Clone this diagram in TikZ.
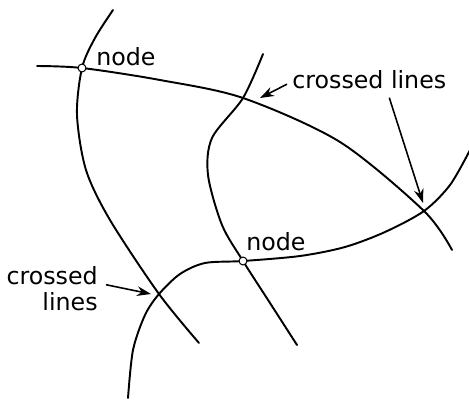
\documentclass[tikz,border=0pt]{standalone}
\usepackage{fontspec}
\setmainfont{DejaVu Sans}
\usetikzlibrary{arrows.meta}
\tikzset{
  strand/.style={line width=1.1pt, line cap=round},
  junction/.style={circle, draw, fill=white, line width=0.6pt, minimum size=4.5pt, inner sep=0pt},
  tag/.style={inner sep=0pt, font=\fontsize{13.5}{15}\selectfont},
  pointer/.style={-{Stealth[length=8pt,width=5.5pt]}, line width=0.9pt},
}
\begin{document}
\begin{tikzpicture}[x=0.02cm, y=-0.02cm]
    \useasboundingbox (0,0) rectangle (469,399);
    % the four strands
    \draw[strand] plot[smooth] coordinates {(113,10) (95,38) (82,68) (77,115) (86,170) (110,220) (159,294) (199,343)};
    \draw[strand] plot[smooth] coordinates {(37,66) (82,68) (160,80) (243,98) (340,142) (424,211) (452,250)};
    \draw[strand] plot[smooth] coordinates {(263,54) (243,98) (212,138) (208,175) (222,225) (243,261) (270,303) (297,345)};
    \draw[strand] plot[smooth] coordinates {(128,398) (133,350) (145,315) (159,294) (180,274) (205,263) (243,261) (300,256) (345,247) (385,232) (424,211) (450,185) (470,150)};
    % junctions
    \node[junction] (n1) at (82,68) {};
    \node[junction] (n2) at (243,261) {};
    \node[tag, anchor=base west] (l1) at (96,65) {node};
    \node[tag, anchor=base west] (l2) at (246,250) {node};
    % crossings
    \coordinate (t1) at (260,98);
    \coordinate (t2) at (423,203);
    \coordinate (t3) at (151,294);
    \node[tag, anchor=base west] (c1) at (292,88) {crossed lines};
    \node[tag, anchor=north east, align=right] (c2) at (98,266) {crossed\\lines};
    \draw[pointer] ([shift={(-5,5)}]c1.west) -- (t1);
    \draw[pointer] ([shift={(20,9)}]c1.south) -- (t2);
    \draw[pointer] ([shift={(8,-4)}]c2.east) -- (t3);
\end{tikzpicture}
\end{document}
